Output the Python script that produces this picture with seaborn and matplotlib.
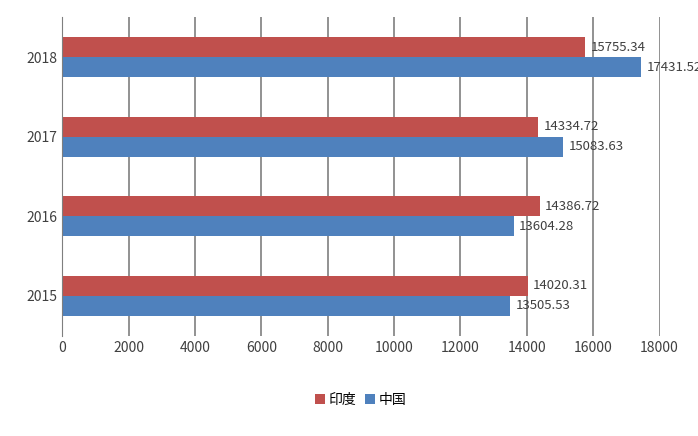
import matplotlib
matplotlib.use("Agg")
import matplotlib.pyplot as plt
import seaborn as sns
import pandas as pd

plt.rcParams["font.family"] = "sans-serif"
plt.rcParams["font.sans-serif"] = ["Noto Sans CJK SC", "Noto Sans CJK JP", "DejaVu Sans"]

years = ["2018", "2017", "2016", "2015"]
india = [15755.34, 14334.72, 14386.72, 14020.31]
china = [17431.52, 15083.63, 13604.28, 13505.53]

df = pd.DataFrame({
    "year": years * 2,
    "value": india + china,
    "country": ["印度"] * 4 + ["中国"] * 4,
})

fig, ax = plt.subplots(figsize=(6.98, 4.36), dpi=100)
fig.subplots_adjust(left=0.089, right=0.945, top=0.96, bottom=0.23)

sns.barplot(data=df, x="value", y="year", hue="country", orient="h",
            palette={"印度": "#C0504D", "中国": "#4F81BD"},
            width=0.5, ax=ax, saturation=1)

for cont in ax.containers:
    ax.bar_label(cont, labels=[f"{v:.2f}" for v in cont.datavalues],
                 padding=4, fontsize=9.5, color="#404040")

ax.set_xlim(0, 18000)
ax.set_xticks(range(0, 18001, 2000))
ax.grid(axis="x", color="#7f7f7f", linewidth=1.2)
ax.set_axisbelow(True)
for s in ["top", "right", "bottom"]:
    ax.spines[s].set_visible(False)
ax.spines["left"].set_color("#7f7f7f")
ax.tick_params(length=0, labelsize=10, colors="#404040")
ax.set_xlabel("")
ax.set_ylabel("")
ax.legend(loc="upper center", bbox_to_anchor=(0.5, -0.14), ncol=2, frameon=False,
          fontsize=10, handlelength=0.7, handleheight=0.7, columnspacing=0.6,
          handletextpad=0.3)

fig.savefig("out.png", dpi=100)
